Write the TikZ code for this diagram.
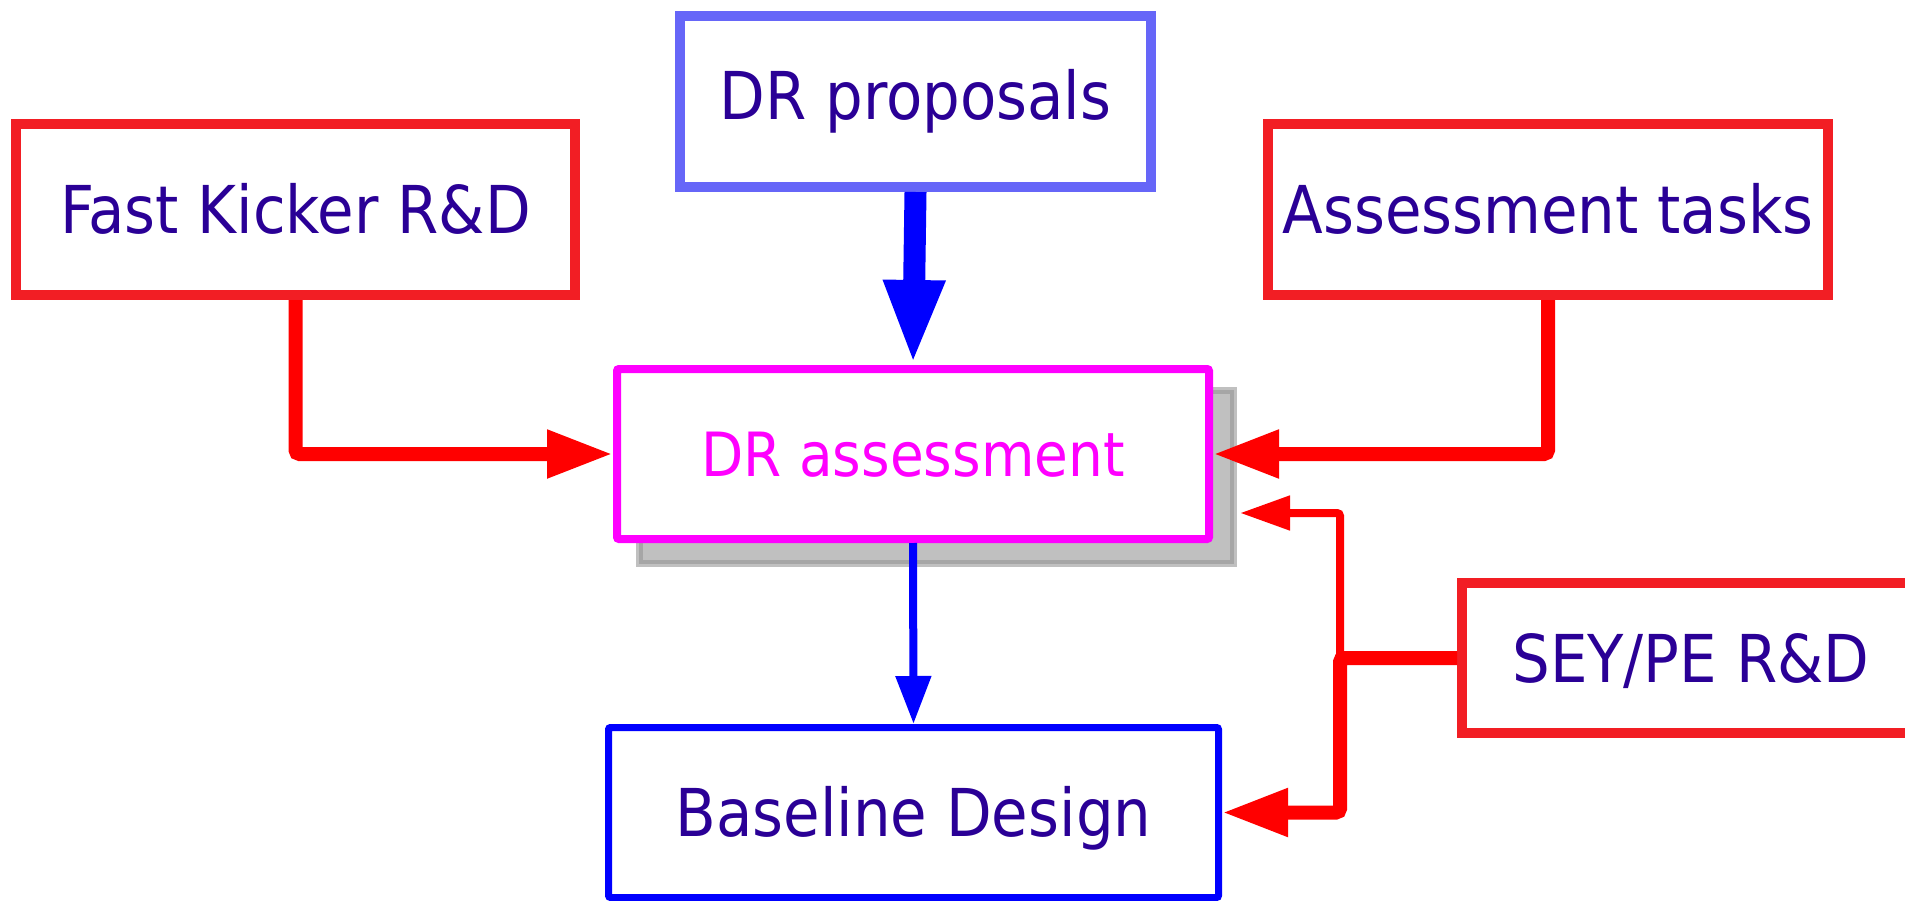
\documentclass[tikz,border=0pt]{standalone}
\usepackage{fontspec}
\setmainfont{DejaVu Sans Condensed}
\usetikzlibrary{arrows.meta,backgrounds}
\definecolor{txt}{RGB}{42,0,150}
\definecolor{boxred}{RGB}{242,30,36}
\definecolor{propblue}{RGB}{102,102,248}
\definecolor{pureblue}{RGB}{0,0,255}
\definecolor{purered}{RGB}{255,0,0}
\definecolor{puremagenta}{RGB}{255,0,255}
\definecolor{shadowfill}{RGB}{192,192,192}
\definecolor{shadowline}{RGB}{166,166,166}
\begin{document}
\begin{tikzpicture}[x=1pt,y=-1pt,
  box/.style={draw, rectangle, inner sep=0pt, fill=white, text=txt,
    font=\fontsize{66}{79}\selectfont, text height=48pt, text depth=0pt},
  redbox/.style={box, draw=boxred, line width=10pt},
  propbox/.style={box, draw=propblue, line width=10pt},
  assessbox/.style={box, draw=puremagenta, line width=8pt, rounded corners=2pt, text=puremagenta,
    font=\fontsize{61}{73}\selectfont, text height=44pt},
  basebox/.style={box, draw=pureblue, line width=7pt, rounded corners=2pt},
  redthick/.style={draw=purered, line width=14pt, rounded corners=4pt,
    -{Triangle[length=66pt,width=45pt]}},
  redthin/.style={draw=purered, line width=8pt, rounded corners=3pt,
    -{Triangle[length=50pt,width=33pt]}},
  bluethick/.style={draw=pureblue, line width=22pt, -{Triangle[length=85pt,width=56pt]}},
  bluethin/.style={draw=pureblue, line width=8pt, -{Triangle[length=48pt,width=34pt]}}]
\useasboundingbox (0,0) rectangle (1905,901);

\node[redbox, minimum width=559pt, minimum height=171pt] (fk) at (295.5,209.5) {Fast Kicker R\&D};
\node[propbox, minimum width=471pt, minimum height=171pt] (drp) at (915.5,101.5) {\raisebox{6pt}{DR proposals}};
\node[redbox, minimum width=560pt, minimum height=171pt] (at) at (1548,209.5) {Assessment tasks};
\node[assessbox, minimum width=592pt, minimum height=170pt] (dra) at (913,454) {DR assessment};
\node[basebox, minimum width=610pt, minimum height=170pt] (bd) at (913.5,812.5) {Baseline Design};
\node[redbox, minimum width=458pt, minimum height=150pt] (sey) at (1691,658) {SEY/PE R\&D};

\begin{scope}[on background layer]
  \fill[shadowfill] ([shift={(23,22)}]dra.north west) rectangle ([shift={(24,24)}]dra.south east);
  \draw[shadowline, line width=3.5pt] ([shift={(28,27)}]dra.north west) rectangle ([shift={(19,19)}]dra.south east);
\end{scope}

\coordinate (j) at (1340,658);
\coordinate (t) at (1240,513);

\draw[redthick] (fk.south) |- (dra.west);
\draw[redthick] (at.south) |- (dra.east);
\draw[bluethick] (drp.south) -- (dra.north);
\draw[bluethin] (dra.south) -- (bd.north);
\draw[redthin] (j) |- (t);
\draw[redthick] (sey.west) -- (j) |- (bd.east);
\end{tikzpicture}
\end{document}
